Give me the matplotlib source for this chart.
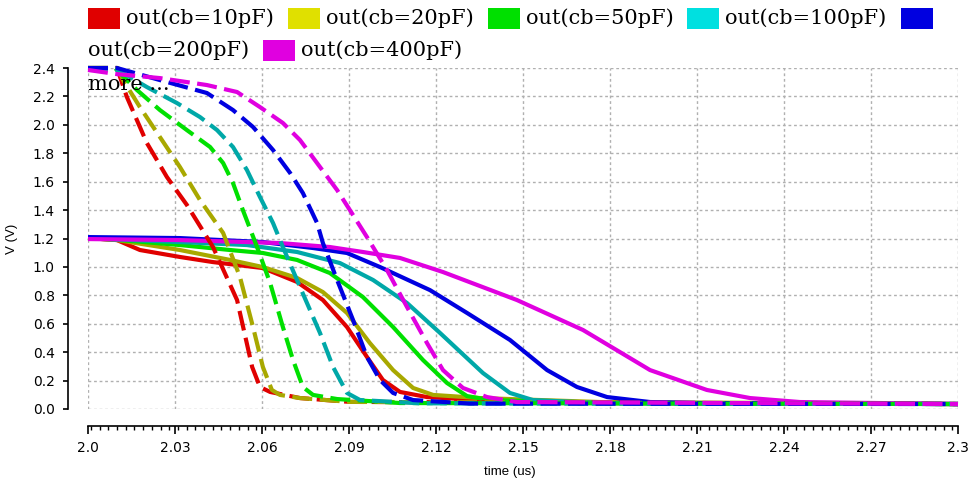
import numpy as np
import matplotlib
matplotlib.use("Agg")
import matplotlib.pyplot as plt
from matplotlib.patches import Rectangle
from matplotlib.ticker import MultipleLocator

# ---------------- data ----------------
labels = ["out(cb=10pF)", "out(cb=20pF)", "out(cb=50pF)", "out(cb=100pF)",
          "out(cb=200pF)", "out(cb=400pF)"]
legend_colors = ["#e00000", "#e0e000", "#00e000", "#00e0e0", "#0000e0", "#e000e0"]
line_colors = ["#e00000", "#a8a800", "#00e000", "#00a8a8", "#0000e0", "#e000e0"]

# solid traces (start at 1.2 V)
t_s10 = [2.0, 2.010, 2.0179, 2.0317, 2.0431, 2.0603, 2.0721, 2.0810, 2.0893, 2.0962, 2.1017, 2.1076, 2.1169, 2.1352, 2.1766, 2.3]
v_s10 = [1.203, 1.189, 1.119, 1.070, 1.034, 0.992, 0.894, 0.767, 0.577, 0.366, 0.204, 0.120, 0.084, 0.063, 0.042, 0.035]
t_s20 = [2.0, 2.010, 2.0317, 2.0490, 2.0603, 2.0721, 2.0810, 2.0893, 2.0972, 2.1052, 2.1121, 2.1190, 2.1352, 2.1766, 2.3]
v_s20 = [1.203, 1.189, 1.119, 1.049, 0.999, 0.922, 0.823, 0.676, 0.464, 0.274, 0.148, 0.099, 0.077, 0.049, 0.035]
t_s50 = [2.0, 2.011, 2.0317, 2.0490, 2.0603, 2.0721, 2.0834, 2.0948, 2.1052, 2.1155, 2.1238, 2.1307, 2.1386, 2.1766, 2.3]
v_s50 = [1.203, 1.189, 1.154, 1.119, 1.098, 1.049, 0.957, 0.788, 0.577, 0.345, 0.183, 0.091, 0.063, 0.042, 0.035]
t_s100 = [2.0, 2.0145, 2.0317, 2.0548, 2.0721, 2.0869, 2.0983, 2.1100, 2.1214, 2.1362, 2.1455, 2.1534, 2.1766, 2.3]
v_s100 = [1.203, 1.189, 1.175, 1.154, 1.105, 1.027, 0.908, 0.746, 0.535, 0.253, 0.113, 0.063, 0.042, 0.035]
t_s200 = [2.0, 2.0317, 2.0603, 2.0776, 2.0893, 2.1007, 2.1179, 2.1307, 2.1455, 2.1583, 2.1686, 2.1790, 2.1938, 2.2110, 2.3]
v_s200 = [1.21, 1.203, 1.175, 1.133, 1.098, 0.999, 0.837, 0.676, 0.486, 0.274, 0.155, 0.084, 0.049, 0.042, 0.035]
t_s400 = [2.0, 2.0317, 2.0662, 2.0834, 2.0948, 2.1076, 2.1224, 2.1479, 2.1707, 2.1938, 2.2134, 2.2283, 2.2455, 2.3]
v_s400 = [1.196, 1.189, 1.168, 1.140, 1.105, 1.063, 0.964, 0.767, 0.556, 0.274, 0.134, 0.077, 0.049, 0.035]

# dashed traces (start at 2.4 V)
t_d10 = [2.0, 2.010, 2.0134, 2.0203, 2.0272, 2.0341, 2.0431, 2.0514, 2.0566, 2.0593, 2.0628, 2.0731, 2.0903, 2.3]
v_d10 = [2.40, 2.40, 2.196, 1.872, 1.633, 1.436, 1.140, 0.767, 0.296, 0.155, 0.120, 0.077, 0.050, 0.035]
t_d20 = [2.0, 2.0103, 2.0121, 2.0179, 2.0248, 2.0317, 2.0386, 2.0466, 2.0524, 2.0569, 2.0603, 2.0634, 2.0662, 2.0731, 2.0903, 2.3]
v_d20 = [2.40, 2.40, 2.315, 2.125, 1.914, 1.703, 1.471, 1.239, 0.929, 0.577, 0.296, 0.134, 0.099, 0.077, 0.050, 0.035]
t_d50 = [2.0, 2.0093, 2.0169, 2.0248, 2.0341, 2.0421, 2.0466, 2.0500, 2.0534, 2.0583, 2.0628, 2.0672, 2.0707, 2.0741, 2.0776, 2.0859, 2.1076, 2.3]
v_d50 = [2.40, 2.40, 2.245, 2.104, 1.963, 1.844, 1.731, 1.590, 1.400, 1.140, 0.887, 0.577, 0.345, 0.155, 0.099, 0.070, 0.042, 0.035]
t_d100 = [2.0, 2.0103, 2.0203, 2.0307, 2.0386, 2.0445, 2.0500, 2.0548, 2.0593, 2.0638, 2.0672, 2.0731, 2.0800, 2.0845, 2.0893, 2.0938, 2.1145, 2.3]
v_d100 = [2.40, 2.386, 2.266, 2.153, 2.055, 1.963, 1.844, 1.682, 1.492, 1.309, 1.140, 0.859, 0.535, 0.296, 0.113, 0.063, 0.040, 0.035]
t_d200 = [2.0, 2.010, 2.0248, 2.0410, 2.0500, 2.0569, 2.0638, 2.0697, 2.0741, 2.0790, 2.0810, 2.0859, 2.0914, 2.0962, 2.1007, 2.1052, 2.1121, 2.1317, 2.3]
v_d200 = [2.40, 2.40, 2.315, 2.224, 2.104, 1.985, 1.823, 1.661, 1.520, 1.309, 1.168, 0.908, 0.626, 0.366, 0.204, 0.113, 0.063, 0.038, 0.035]
t_d400 = [2.0, 2.010, 2.0248, 2.0410, 2.0514, 2.0593, 2.0672, 2.0731, 2.0800, 2.0859, 2.0903, 2.0962, 2.1031, 2.1100, 2.1169, 2.1224, 2.1293, 2.1376, 2.1479, 2.3]
v_d400 = [2.386, 2.357, 2.329, 2.280, 2.231, 2.125, 2.013, 1.893, 1.703, 1.541, 1.400, 1.210, 0.978, 0.718, 0.464, 0.274, 0.148, 0.084, 0.049, 0.035]

solid = [(t_s10, v_s10), (t_s20, v_s20), (t_s50, v_s50), (t_s100, v_s100), (t_s200, v_s200), (t_s400, v_s400)]
dashed = [(t_d10, v_d10), (t_d20, v_d20), (t_d50, v_d50), (t_d100, v_d100), (t_d200, v_d200), (t_d400, v_d400)]

xticks = [2.0, 2.03, 2.06, 2.09, 2.12, 2.15, 2.18, 2.21, 2.24, 2.27, 2.3]
xtick_labels = ["2.0", "2.03", "2.06", "2.09", "2.12", "2.15", "2.18", "2.21", "2.24", "2.27", "2.3"]
yticks = [0.0, 0.2, 0.4, 0.6, 0.8, 1.0, 1.2, 1.4, 1.6, 1.8, 2.0, 2.2, 2.4]

# ---------------- figure ----------------
W, H = 971, 479
DPI = 100
fig = plt.figure(figsize=(W / DPI, H / DPI), dpi=DPI)
L, R, T, B = 88, 958, 68, 409
ax = fig.add_axes([L / W, 1 - B / H, (R - L) / W, (B - T) / H])

xtick_font = dict(family="Liberation Sans", size=10)
ytick_font = dict(family="Liberation Sans", size=9.5)
leg_font = dict(family="DejaVu Serif", size=15)

LW = 3.0
for (t, v), c in zip(solid, line_colors):
    ax.plot(t, v, color=c, lw=LW, solid_capstyle="butt", clip_on=False, zorder=3)
for (t, v), c in zip(dashed, line_colors):
    ln, = ax.plot(t, v, color=c, lw=LW, clip_on=False, zorder=4)
    ln.set_dashes((4.8, 1.8))
    ln.set_dash_capstyle("butt")

ax.set_xlim(2.0, 2.3)
ax.set_ylim(0, 2.4)
ax.set_xticks(xticks)
ax.set_xticklabels(xtick_labels, **xtick_font)
ax.set_yticks(yticks)
ax.set_yticklabels([f"{y:.1f}" for y in yticks], **ytick_font)
ax.xaxis.set_minor_locator(MultipleLocator(0.003))

ax.grid(True, which="major", color="#b0b0b0", linestyle=(0, (2, 2)), lw=1.0)
for gl in ax.get_xgridlines() + ax.get_ygridlines():
    gl.set_clip_on(False)
ax.set_axisbelow(True)

for s in ["top", "right"]:
    ax.spines[s].set_visible(False)
ax.spines["left"].set_position(("outward", 14.4))
ax.spines["bottom"].set_position(("outward", 12.5))
ax.spines["left"].set_linewidth(1.2)
ax.spines["bottom"].set_linewidth(1.2)
ax.tick_params(axis="y", which="major", direction="out", length=3.5, width=1.2, pad=6)
ax.tick_params(axis="x", which="major", direction="out", length=5.5, width=1.2, pad=5)
ax.tick_params(axis="x", which="minor", direction="out", length=3, width=1.0)

ax.set_xlabel("time (us)", family="Liberation Sans", size=9.5)
ax.xaxis.set_label_coords((510 - L) / (R - L), (B - 466) / (B - T))
ax.set_ylabel("V (V)", family="Liberation Sans", size=9.5)
ax.yaxis.set_label_coords((18 - L) / (R - L), 0.5)

# ---------------- flow legend at top ----------------
renderer = fig.canvas.get_renderer()
x0, xmax = 88, 965
row_y = [18, 50]
patch_w, patch_h = 32, 21
gap_pt, gap_ti = 6, 14
cx, row = x0, 0


def fig_xy(px, py):
    return px / W, 1 - py / H


elements = []
for lab, col in zip(labels, legend_colors):
    elements.append(("patch", col))
    elements.append(("text", lab))

for kind, val in elements:
    if kind == "patch":
        if cx + patch_w > xmax:
            row += 1
            cx = x0
        yc = row_y[row]
        fig.add_artist(Rectangle(fig_xy(cx, yc + patch_h / 2), patch_w / W, patch_h / H,
                                 transform=fig.transFigure, color=val, lw=0))
        cx += patch_w + gap_pt
    else:
        txt = fig.text(0, 0, val, va="center", ha="left", **leg_font)
        w = txt.get_window_extent(renderer).width
        if cx + w > xmax:
            row += 1
            cx = x0
        txt.set_position(fig_xy(cx, row_y[row]))
        cx += w + gap_ti

fig.text(*fig_xy(88, 85), "more ...", va="center", ha="left", **leg_font)

fig.savefig("out.png", dpi=DPI)
